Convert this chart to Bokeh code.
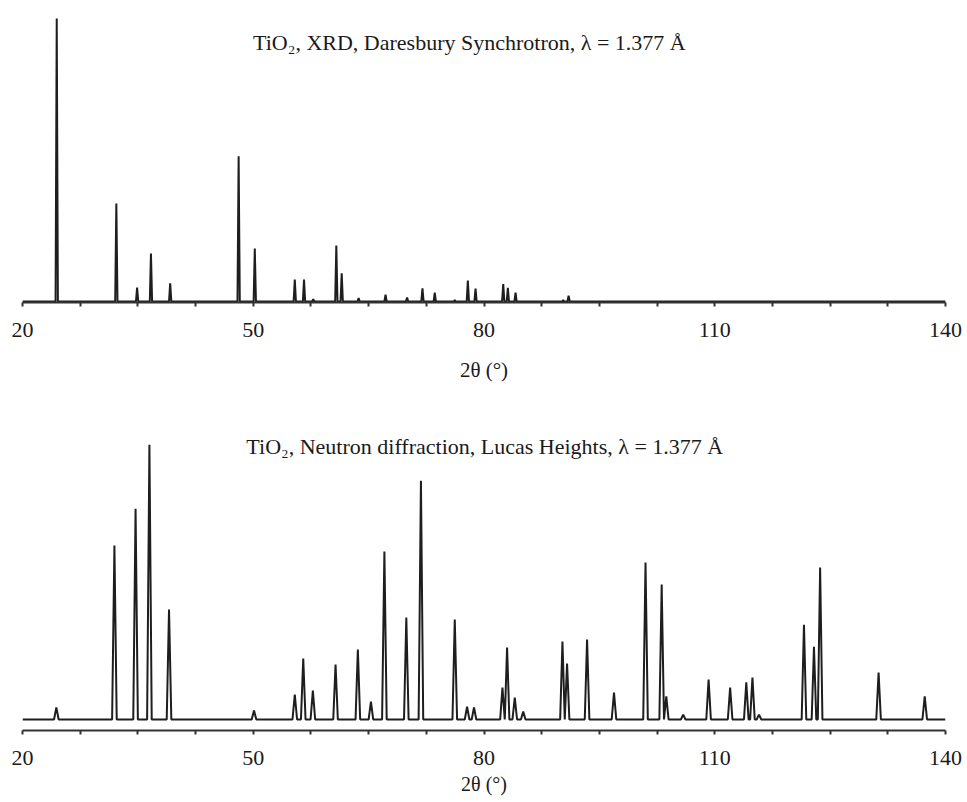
from bokeh.plotting import figure
from bokeh.layouts import column
from bokeh.models import Range1d, FixedTicker, Label
from bokeh.embed import file_html
from bokeh.resources import INLINE

# ---- data ----
two_theta_ticks = [20, 50, 80, 110, 140]
two_theta_minor = [27.5, 35, 42.5, 57.5, 65, 72.5, 87.5, 95, 102.5, 117.5, 125, 132.5]

xrd_pos = [24.45, 32.2, 34.9, 36.7, 39.2, 48.1, 50.2, 55.4, 56.6, 57.8, 60.8, 61.5,
           63.7, 67.2, 70.0, 72.0, 73.6, 76.2, 77.9, 78.9, 82.5, 83.1, 84.1, 90.3, 91.0]
xrd_int = [100, 34.6, 4.9, 17.0, 6.4, 51.3, 18.7, 7.8, 7.8, 0.8, 19.8, 10.0,
           1.2, 2.4, 1.4, 4.7, 3.1, 0.5, 7.4, 4.6, 6.2, 4.8, 3.1, 0.5, 2.1]

nd_pos = [24.4, 31.95, 34.7, 36.5, 39.05, 50.1, 55.4, 56.5, 57.75, 60.7, 63.6, 65.3,
          67.05, 69.9, 71.8, 76.2, 77.8, 78.7, 82.4, 83.0, 84.0, 85.1, 90.2, 90.8,
          93.4, 96.9, 101.0, 103.1, 103.7, 105.9, 109.2, 112.0, 114.1, 114.9, 115.75,
          121.6, 122.9, 123.7, 131.3, 137.3]
nd_int = [4.4, 63.3, 76.7, 100, 40.0, 3.3, 9.1, 22.2, 10.5, 20.0, 25.5, 6.5,
          61.1, 37.1, 86.9, 36.4, 4.7, 4.4, 11.6, 26.2, 8.0, 2.9, 28.4, 20.4,
          29.1, 9.8, 57.1, 49.1, 8.4, 1.8, 14.5, 11.6, 13.5, 15.3, 1.8,
          34.5, 26.5, 55.3, 17.1, 8.4]

title_xrd = "TiO\u2082, XRD, Daresbury Synchrotron, \u03bb = 1.377 \u00c5"
title_nd = "TiO\u2082, Neutron diffraction, Lucas Heights, \u03bb = 1.377 \u00c5"
x_label = "2\u03b8 (\u00b0)"

FONT = "Liberation Serif"
LINE = "#1e1e1e"


def peak_path(pos, ints, hw, x0=20, x1=140):
    xs, ys = [x0], [0]
    for x, h in zip(pos, ints):
        left = x - hw
        if left < xs[-1]:
            # overlapping neighbour: share one valley point
            xs[-1] = (xs[-2] + x) / 2
            xs.extend([x, x + hw])
            ys.extend([h, 0])
        else:
            xs.extend([left, x, x + hw])
            ys.extend([0, h, 0])
    xs.append(x1)
    ys.append(0)
    return xs, ys


def style(p, standoff, label_standoff, label_size):
    p.grid.visible = False
    p.outline_line_color = None
    p.background_fill_color = "white"
    p.border_fill_color = "white"
    ax = p.xaxis[0]
    ax.ticker = FixedTicker(ticks=two_theta_ticks, minor_ticks=two_theta_minor)
    ax.axis_line_width = 2
    ax.axis_line_color = "#333333"
    ax.major_tick_line_width = 2
    ax.minor_tick_line_width = 2
    ax.major_tick_line_color = "#333333"
    ax.minor_tick_line_color = "#333333"
    ax.major_tick_in = 0
    ax.major_tick_out = 4
    ax.minor_tick_in = 0
    ax.minor_tick_out = 4
    ax.major_label_text_font = FONT
    ax.major_label_text_font_size = "22px"
    ax.major_label_text_color = "#1a1a1a"
    ax.major_label_standoff = standoff
    ax.axis_label = x_label
    ax.axis_label_text_font = FONT
    ax.axis_label_text_font_size = label_size
    ax.axis_label_text_font_style = "normal"
    ax.axis_label_text_color = "#1a1a1a"
    ax.axis_label_standoff = label_standoff


p1 = figure(width=965, height=396, title=None,
            x_range=Range1d(20, 140), y_range=Range1d(-0.35, 101.8),
            output_backend="svg", toolbar_location=None, y_axis_location=None,
            min_border_left=20, min_border_right=20, min_border_top=13, min_border_bottom=94)
style(p1, 16, 18, "21px")
xs1, ys1 = peak_path(xrd_pos, xrd_int, 0.15)
p1.line(xs1, ys1, line_color=LINE, line_width=2)
p1.add_layout(Label(x=78.1, y=91.6, text=title_xrd, text_font=FONT, text_font_size="22px",
                    text_align="center", text_baseline="middle", text_color="#1a1a1a"))

p2 = figure(width=965, height=406, title=None,
            x_range=Range1d(20, 140), y_range=Range1d(-4.0, 107.0),
            output_backend="svg", toolbar_location=None, y_axis_location=None,
            min_border_left=22, min_border_right=19, min_border_top=29, min_border_bottom=72)
style(p2, 16, 5, "20px")
xs2, ys2 = peak_path(nd_pos, nd_int, 0.3)
p2.line(xs2, ys2, line_color=LINE, line_width=2)
p2.add_layout(Label(x=80.1, y=99.4, text=title_nd, text_font=FONT, text_font_size="22px",
                    text_align="center", text_baseline="middle", text_color="#1a1a1a"))

layout = column(p1, p2, spacing=0)
open("out.html", "w").write(file_html(layout, INLINE))
